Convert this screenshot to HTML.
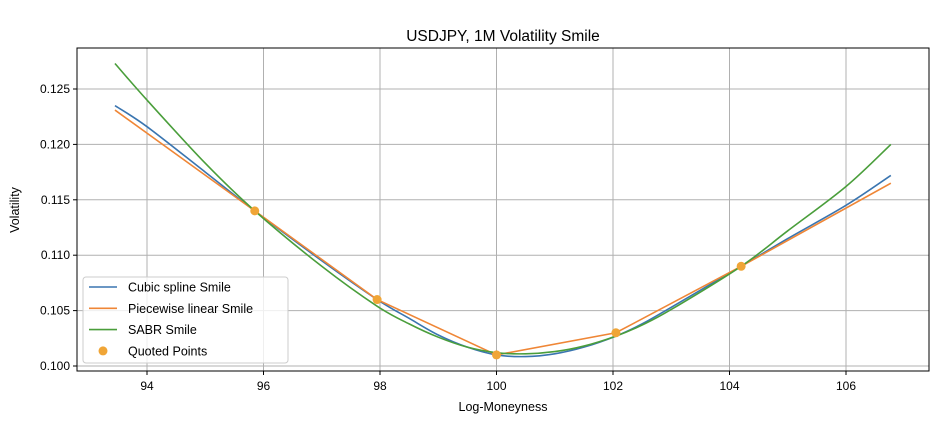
<!DOCTYPE html>
<html><head><meta charset="utf-8"><style>
body{margin:0;background:#fff;}
svg text{font-family:"Liberation Sans","DejaVu Sans",sans-serif;fill:#000;}
</style></head><body>
<svg id="c" width="935" height="419" xmlns="http://www.w3.org/2000/svg">
<rect width="935" height="419" fill="#fff"/>
<text x="503" y="41" font-size="15.5" text-anchor="middle">USDJPY, 1M Volatility Smile</text>
<g id="grid"></g>
<g id="series"></g>
<rect x="77" y="48" width="852" height="323" fill="none" stroke="#000" stroke-width="1"/>
<g id="ticks"></g>
<text x="503" y="411" font-size="12.5" text-anchor="middle">Log-Moneyness</text>
<text x="19" y="210" font-size="12.5" text-anchor="middle" transform="rotate(-90 19 210)">Volatility</text>
<g id="legend"></g>
</svg>
<script>
const xTicks=[94,96,98,100,102,104,106];
const yTicks=[0.100,0.105,0.110,0.115,0.120,0.125];
const yTickLabels=["0.100","0.105","0.110","0.115","0.120","0.125"];
const quotedX=[95.85,97.95,100.0,102.05,104.2];
const quotedY=[0.114,0.106,0.101,0.103,0.109];
const smoothX=[93.45,94,95,95.85,97,97.95,98.5,99,99.5,100,100.5,101,101.5,102.05,102.5,103,104.2,105,106,106.77];
const cubicY=[0.1235,0.1216,0.1175,0.1140,0.1095,0.1060,0.1043,0.1028,0.1017,0.1010,0.10085,0.1011,0.1017,0.1027,0.1038,0.1053,0.1090,0.1115,0.1145,0.1172];
const sabrY=[0.1273,0.1240,0.1183,0.1140,0.1090,0.1054,0.1038,0.1026,0.1017,0.1012,0.1011,0.1013,0.1018,0.1027,0.1037,0.1051,0.1090,0.1122,0.1162,0.1200];
const linearX=[93.45,95.85,97.95,100.0,102.05,104.2,106.77];
const linearY=[0.1231,0.114,0.106,0.101,0.103,0.109,0.1165];

const NS="http://www.w3.org/2000/svg";
const X=v=>147+(v-94)*58.25;
const Y=v=>366-(v-0.100)*11080;
function mk(t,a,p){const e=document.createElementNS(NS,t);for(const k in a)e.setAttribute(k,a[k]);p.appendChild(e);return e;}
const grid=document.getElementById('grid'),ticks=document.getElementById('ticks');
xTicks.forEach(v=>{
  const g=mk('line',{x1:X(v),x2:X(v),y1:48,y2:371,stroke:'#b0b0b0','stroke-width':1},grid);
  
  
  const t=mk('line',{x1:X(v),x2:X(v),y1:371,y2:375,stroke:'#000'},ticks);
  
  
  const l=mk('text',{x:X(v),y:390,'font-size':12,'text-anchor':'middle'},ticks);l.textContent=v;
  
  
});
yTicks.forEach((v,i)=>{
  const g=mk('line',{x1:77,x2:929,y1:Y(v),y2:Y(v),stroke:'#b0b0b0','stroke-width':1},grid);
  
  
  const t=mk('line',{x1:73,x2:77,y1:Y(v),y2:Y(v),stroke:'#000'},ticks);
  
  
  const l=mk('text',{x:70,y:Y(v)+4,'font-size':12,'text-anchor':'end'},ticks);l.textContent=yTickLabels[i];
  
  
});
function smoothPath(xs,ys){
  const p=xs.map((x,i)=>[X(x),Y(ys[i])]);
  let d=`M${p[0][0]},${p[0][1]}`;
  for(let i=0;i<p.length-1;i++){
    const p0=p[i-1]||p[i],p1=p[i],p2=p[i+1],p3=p[i+2]||p[i+1];
    const c1=[p1[0]+(p2[0]-p0[0])/6,p1[1]+(p2[1]-p0[1])/6];
    const c2=[p2[0]-(p3[0]-p1[0])/6,p2[1]-(p3[1]-p1[1])/6];
    d+=` C${c1[0]},${c1[1]} ${c2[0]},${c2[1]} ${p2[0]},${p2[1]}`;
  }
  return d;
}
const S=document.getElementById('series');
const cubic=mk('path',{d:smoothPath(smoothX,cubicY),fill:'none',stroke:'#3a75b0','stroke-width':1.6},S);


const lin=mk('polyline',{points:linearX.map((x,i)=>X(x)+','+Y(linearY[i])).join(' '),fill:'none',stroke:'#ef8636','stroke-width':1.6},S);


const sabr=mk('path',{d:smoothPath(smoothX,sabrY),fill:'none',stroke:'#4a9e3b','stroke-width':1.6},S);


quotedX.forEach((x,i)=>{
  const c=mk('circle',{cx:X(x),cy:Y(quotedY[i]),r:4.5,fill:'#f0a536'},S);
  
  
});
const L=document.getElementById('legend');
const box=mk('rect',{x:83,y:277,width:205,height:86,rx:3,fill:'#fff','fill-opacity':0.8,stroke:'#ccc'},L);


const entries=[["Cubic spline Smile","#3a75b0","line"],["Piecewise linear Smile","#ef8636","line"],["SABR Smile","#4a9e3b","line"],["Quoted Points","#f0a536","dot"]];
entries.forEach((e,i)=>{
  const y=287+i*21.3;
  if(e[2]==='line'){const s=mk('line',{x1:89,x2:117,y1:y,y2:y,stroke:e[1],'stroke-width':1.6},L);
    
    }
  else{const s=mk('circle',{cx:103,cy:y,r:4.5,fill:e[1]},L);
    
    }
  const t=mk('text',{x:128,y:y+4.5,'font-size':12.5},L);t.textContent=e[0];
  
  
});
</script>
</body></html>
